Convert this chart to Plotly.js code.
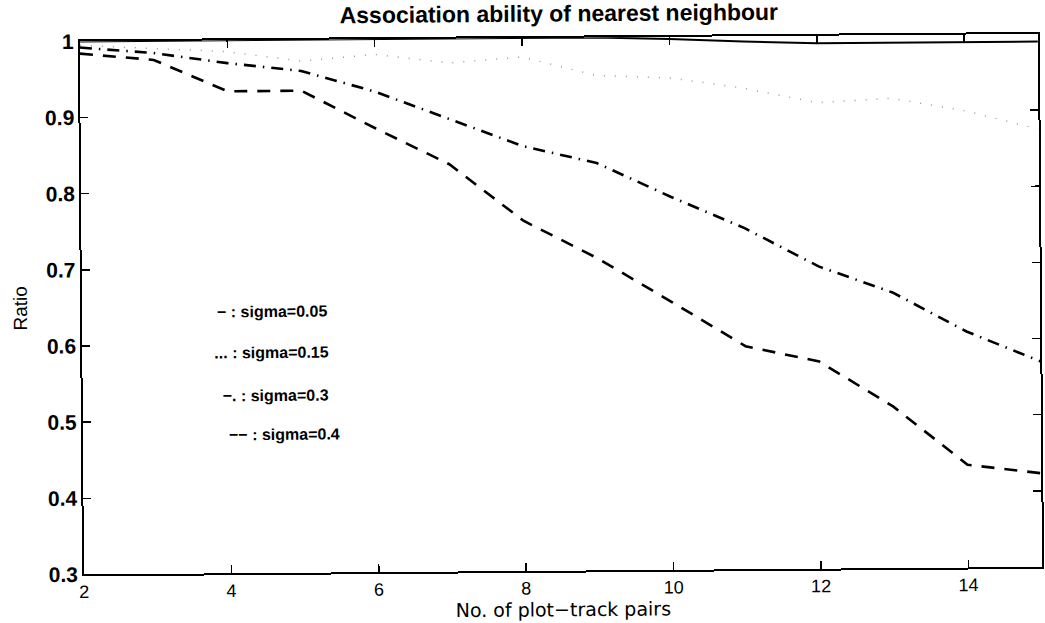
<!DOCTYPE html>
<html>
<head>
<meta charset="utf-8">
<script src="https://cdn.plot.ly/plotly-3.0.1.min.js"></script>
<style>
  html, body { margin: 0; padding: 0; background: #fff; overflow: hidden; }
  #chart { width: 1045px; height: 623px; transform: rotate(-0.45deg); transform-origin: 50% 50%; }
</style>
</head>
<body>
<div id="chart"></div>
<script>
// Data
const pairs = [2, 3, 4, 5, 6, 7, 8, 9, 10, 11, 12, 13, 14, 15];
const sigma005 = [1.0, 1.0, 1.0, 1.0, 1.0, 1.0, 1.0, 1.0, 0.997, 0.993, 0.99, 0.99, 0.99, 0.99];
const sigma015 = [0.995, 0.99, 0.985, 0.972, 0.98, 0.968, 0.975, 0.95, 0.946, 0.932, 0.912, 0.917, 0.90, 0.875];
const sigma03  = [0.992, 0.984, 0.97, 0.959, 0.931, 0.894, 0.858, 0.835, 0.79, 0.748, 0.697, 0.662, 0.61, 0.57];
const sigma04  = [0.984, 0.975, 0.933, 0.933, 0.883, 0.835, 0.76, 0.71, 0.652, 0.593, 0.572, 0.512, 0.435, 0.423];
const legendLabels = ["− : sigma=0.05", "... : sigma=0.15", "−. : sigma=0.3", "−− : sigma=0.4"];
const xTicks = [2, 4, 6, 8, 10, 12, 14];
const yTicks = [0.3, 0.4, 0.5, 0.6, 0.7, 0.8, 0.9, 1];
const yTickText = ["0.3", "0.4", "0.5", "0.6", "0.7", "0.8", "0.9", "1"];

const font = "Liberation Sans, Arial, Helvetica, sans-serif";
const narrow = "Liberation Sans Narrow, Arial Narrow, Liberation Sans, sans-serif";
const wide = "DejaVu Sans, Liberation Sans, sans-serif";

const traces = [
  { x: pairs, y: sigma005, mode: "lines", line: { color: "#000", width: 2, dash: "solid" } },
  { x: pairs, y: sigma015, mode: "lines", line: { color: "#9a9a9a", width: 1.5, dash: "1px,10px" } },
  { x: pairs, y: sigma03,  mode: "lines", line: { color: "#000", width: 2.6, dash: "12px,7px,1.5px,7px" } },
  { x: pairs, y: sigma04,  mode: "lines", line: { color: "#000", width: 2.6, dash: "13px,10px" } }
];

const legendPos = [
  { x: 3.81, y: 0.644 },
  { x: 3.77, y: 0.589 },
  { x: 3.87, y: 0.533 },
  { x: 3.95, y: 0.482 }
];

const annotations = legendLabels.map((t, i) => ({
  x: legendPos[i].x, y: legendPos[i].y, xref: "x", yref: "y",
  text: t, showarrow: false, xanchor: "left", yanchor: "middle",
  font: { family: font, size: 16, weight: "bold", color: "#000" }
}));

const layout = {
  width: 1045, height: 623,
  margin: { l: 82, r: 5, t: 38, b: 52, pad: 0 },
  paper_bgcolor: "#fff", plot_bgcolor: "#fff",
  showlegend: false,
  title: { text: "Association ability of nearest neighbour", x: 0.537, xanchor: "center",
           yref: "container", y: 0.978, yanchor: "middle",
           font: { family: font, size: 23, weight: "bold", color: "#000" } },
  xaxis: {
    range: [2, 15], tickvals: xTicks, ticktext: xTicks.map(String),
    ticks: "inside", ticklen: 8, tickwidth: 1.5, tickcolor: "#000",
    mirror: "ticks", showline: true, linecolor: "#000", linewidth: 2,
    showgrid: false, zeroline: false,
    tickfont: { family: narrow, size: 18, color: "#000" },
    title: { text: "No. of plot−track pairs", standoff: 2, font: { family: wide, size: 19, color: "#000" } }
  },
  yaxis: {
    range: [0.3, 1], tickvals: yTicks, ticktext: yTickText,
    ticks: "inside", ticklen: 8, tickwidth: 1.5, tickcolor: "#000",
    mirror: "ticks", showline: true, linecolor: "#000", linewidth: 2,
    showgrid: false, zeroline: false,
    tickfont: { family: font, size: 21, weight: "bold", color: "#000" },
    title: { text: "Ratio", standoff: 14, font: { family: narrow, size: 19, color: "#000" } }
  },
  annotations: annotations
};

Plotly.newPlot("chart", traces, layout, { staticPlot: true, displayModeBar: false });
</script>
</body>
</html>
